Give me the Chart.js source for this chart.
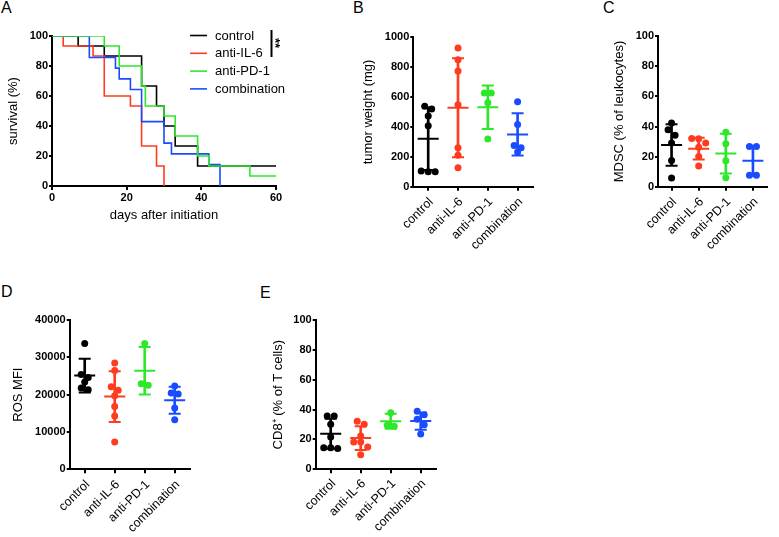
<!DOCTYPE html>
<html><head><meta charset="utf-8">
<script src="https://cdn.jsdelivr.net/npm/chart.js@4.4.0/dist/chart.umd.min.js"></script>
<style>
html,body{margin:0;padding:0;background:#fff;width:779px;height:537px;overflow:hidden;position:relative;font-family:'Liberation Sans',Arial,sans-serif;}
canvas{position:absolute;}
.lbl{position:absolute;font-size:16px;line-height:1;color:#000;}
</style></head><body>
<div class="lbl" style="left:1px;top:0px">A</div>
<div class="lbl" style="left:353px;top:0px">B</div>
<div class="lbl" style="left:603px;top:0px">C</div>
<div class="lbl" style="left:1px;top:284px">D</div>
<div class="lbl" style="left:260px;top:285px">E</div>
<canvas id="cA" width="300" height="230" style="left:0;top:0;width:300px;height:230px"></canvas>
<canvas id="cB" width="190" height="260" style="left:355px;top:0;width:190px;height:260px"></canvas>
<canvas id="cC" width="173" height="260" style="left:606px;top:0;width:173px;height:260px"></canvas>
<canvas id="cD" width="200" height="267" style="left:5px;top:270px;width:200px;height:267px"></canvas>
<canvas id="cE" width="190" height="267" style="left:265px;top:270px;width:190px;height:267px"></canvas>
<script>
// ---------- data ----------
const categories = ['control', 'anti-IL-6', 'anti-PD-1', 'combination'];
const groupColors = ['#000000', '#ff3b20', '#2de82a', '#1a4cff'];

// Panel A: Kaplan-Meier survival (day, % surviving)
const ctrlDays  = [0, 7, 14, 24, 28, 30, 33, 39, 60];
const ctrlSurv  = [100, 93.3, 86.7, 66.7, 53.3, 40, 26.7, 13.3, 13.3];
const il6Days   = [0, 3, 11, 14, 21, 24, 28, 30];
const il6Surv   = [100, 93.3, 86.7, 60, 53.3, 26.7, 13.3, 0];
const pd1Days   = [0, 14, 18, 24, 25, 30, 33, 39, 42, 53, 60];
const pd1Surv   = [100, 93.3, 80, 66.7, 53.3, 46.7, 33.3, 20, 13.3, 6.7, 6.7];
const comboDays = [0, 10, 17, 18, 21, 24, 30, 32, 42, 45];
const comboSurv = [100, 85.7, 78.6, 71.4, 64.3, 42.9, 28.6, 21.4, 14.3, 0];

// Panel B: tumor weight (mg)
const tumorControl = [538, 520, 473, 408, 105, 100, 100];
const tumorIL6     = [928, 850, 775, 548, 261, 210, 127];
const tumorPD1     = [627, 627, 562, 319];
const tumorCombo   = [569, 417, 275, 261, 232];
const tumorMean    = [321, 528, 532, 350];
const tumorSD      = [209, 331, 146, 141];

// Panel C: MDSC (% of leukocytes)
const mdscControl = [42.4, 37.9, 34.2, 29.0, 17.4, 5.8];
const mdscIL6     = [32.1, 31.8, 29.0, 26.3, 20.0, 13.8];
const mdscPD1     = [36.2, 28.6, 17.2, 6.0];
const mdscCombo   = [26.8, 26.8, 7.6, 7.6];
const mdscMean    = [27.7, 25.3, 22.0, 17.2];
const mdscSD      = [13.8, 7.2, 13.2, 10.0];

// Panel D: ROS MFI
const rosControl = [33700, 25400, 24600, 23400, 21800, 21300];
const rosIL6     = [28500, 26500, 22100, 21200, 19700, 16800, 14300, 7300];
const rosPD1     = [33700, 22950, 22500];
const rosCombo   = [22300, 20450, 20200, 16400, 13300];
const rosMean    = [25100, 19500, 26400, 18500];
const rosSD      = [4500, 6800, 6350, 3600];

// Panel E: CD8+ (% of T cells)
const cd8Control = [35.7, 35.7, 30.1, 21.7, 14.5, 14.0, 14.5];
const cd8IL6     = [32.1, 30.1, 22.3, 18.3, 18.3, 15.0, 9.8];
const cd8PD1     = [37.9, 29.5, 28.8];
const cd8Combo   = [38.8, 36.6, 33.5, 29.9, 23.7];
const cd8Mean    = [23.8, 20.9, 32.2, 32.3];
const cd8SD      = [10.0, 8.0, 5.0, 5.8];

// ---------- common styling ----------
const FAM = "'Liberation Sans', Arial, sans-serif";
Chart.defaults.font.family = FAM;
Chart.defaults.color = '#000';

function axisStyle(tickLen) {
  return {
    grid: { display: true, drawOnChartArea: false, drawTicks: true, tickLength: tickLen, color: '#000', lineWidth: 2, offset: false },
    border: { display: true, color: '#000', width: 2 }
  };
}

// ---------- Panel A ----------
const survLegend = {
  id: 'survLegend',
  afterDraw(chart) {
    const ctx = chart.ctx;
    ctx.save();
    ctx.font = '13px ' + FAM;
    ctx.textBaseline = 'middle';
    [0, 1, 2, 3].forEach(i => {
      const ds = chart.data.datasets[i];
      const y = 35.5 + i * 17.8;
      ctx.strokeStyle = ds.borderColor; ctx.lineWidth = 1.6;
      ctx.beginPath(); ctx.moveTo(190, y); ctx.lineTo(207, y); ctx.stroke();
      ctx.fillStyle = '#000'; ctx.fillText(ds.label, 215, y + 0.5);
    });
    ctx.strokeStyle = '#000'; ctx.lineWidth = 2;
    ctx.beginPath(); ctx.moveTo(271.5, 30); ctx.lineTo(271.5, 57); ctx.stroke();
    ctx.translate(275, 43); ctx.rotate(Math.PI / 2);
    ctx.textAlign = 'center'; ctx.font = 'bold 13px ' + FAM;
    ctx.fillStyle = '#000';
    ctx.fillText('**', 0, 0);
    ctx.restore();
  }
};

function km(days, surv) { return days.map((d, i) => ({ x: d, y: surv[i] })); }

new Chart(document.getElementById('cA'), {
  type: 'line',
  data: {
    datasets: [
      { label: categories[0], data: km(ctrlDays, ctrlSurv), borderColor: groupColors[0], order: 4 },
      { label: categories[1], data: km(il6Days, il6Surv), borderColor: groupColors[1], order: 3 },
      { label: categories[2], data: km(pd1Days, pd1Surv), borderColor: groupColors[2], order: 1 },
      { label: categories[3], data: km(comboDays, comboSurv), borderColor: groupColors[3], order: 2 }
    ].map(d => Object.assign(d, { stepped: true, borderWidth: 1.6, pointRadius: 0, fill: false }))
  },
  options: {
    responsive: false, animation: false, events: [],
    layout: { padding: { left: 2, top: 36, right: 24, bottom: 0 } },
    scales: {
      x: Object.assign({
        type: 'linear', min: 0, max: 60,
        ticks: { stepSize: 20, font: { weight: 'bold', size: 11 }, color: '#000', padding: 1 },
        title: { display: true, text: 'days after initiation', font: { size: 13 }, color: '#000', padding: { top: 0, bottom: 7 } },
        afterFit: s => { s.height = 44; }
      }, axisStyle(4)),
      y: Object.assign({
        min: 0, max: 100,
        ticks: { stepSize: 20, font: { weight: 'bold', size: 11 }, color: '#000', padding: 1 },
        title: { display: true, text: 'survival (%)', font: { size: 13 }, color: '#000', padding: { top: 4, bottom: 0 } },
        afterFit: s => { s.width = 50; }
      }, axisStyle(3))
    },
    plugins: { legend: { display: false }, tooltip: { enabled: false } }
  },
  plugins: [survLegend]
});

// ---------- dot plots ----------
const swarmPlugin = {
  id: 'swarm',
  afterDatasetsUpdate(chart) {
    const d = 7;
    chart.data.datasets.forEach((ds, di) => {
      if (!ds.swarm) return;
      const meta = chart.getDatasetMeta(di);
      const pts = meta.data.slice().sort((a, b) => a.y - b.y);
      const bins = []; let cur = [];
      pts.forEach(p => {
        if (cur.length && p.y - cur[0].y > d * 0.85) { bins.push(cur); cur = []; }
        cur.push(p);
      });
      if (cur.length) bins.push(cur);
      bins.forEach(bin => {
        const n = bin.length;
        bin.forEach((p, k) => { p.x = p.x + (k - (n - 1) / 2) * d; });
      });
    });
  }
};

function dotChart(id, groups, means, sds, yMax, yStep, yTitle, L) {
  const lo = means.map((m, i) => m - sds[i]);
  const hi = means.map((m, i) => m + sds[i]);
  const datasets = [
    { type: 'bar', data: means.map((m, i) => [lo[i], hi[i]]), backgroundColor: groupColors, barThickness: 2, borderWidth: 0, order: 1 },
    { type: 'line', data: means, showLine: false, pointStyle: 'line', pointRadius: 10.5, pointBorderWidth: 2, pointBorderColor: groupColors, order: 0 },
    { type: 'line', data: hi, showLine: false, pointStyle: 'line', pointRadius: 6, pointBorderWidth: 2, pointBorderColor: groupColors, order: 0 },
    { type: 'line', data: lo, showLine: false, pointStyle: 'line', pointRadius: 6, pointBorderWidth: 2, pointBorderColor: groupColors, order: 0 }
  ];
  groups.forEach((g, i) => {
    datasets.push({
      type: 'line', showLine: false, swarm: true, order: 2,
      data: g.map(v => ({ x: categories[i], y: v })),
      pointRadius: 3.5, pointBorderWidth: 0, pointBackgroundColor: groupColors[i], pointBorderColor: groupColors[i]
    });
  });
  new Chart(document.getElementById(id), {
    type: 'bar',
    data: { labels: categories, datasets },
    options: {
      responsive: false, animation: false, events: [],
      layout: { padding: { left: L.pl, top: L.pt, right: L.pr, bottom: 0 } },
      scales: {
        x: Object.assign({
          type: 'category', offset: true,
          ticks: { minRotation: 45, maxRotation: 45, autoSkip: false, font: { size: 12.5 }, color: '#000', padding: L.lp, labelOffset: 3 },
          afterFit: s => { s.height = L.xh; }
        }, axisStyle(4)),
        y: Object.assign({
          min: 0, max: yMax,
          ticks: { stepSize: yStep, font: { weight: 'bold', size: 11 }, color: '#000', padding: 1, callback: v => String(v) },
          title: { display: true, text: yTitle, font: { size: 13 }, color: '#000', padding: { top: 4, bottom: 0 } },
          afterFit: s => { s.width = L.yw; }
        }, axisStyle(3))
      },
      plugins: { legend: { display: false }, tooltip: { enabled: false } }
    },
    plugins: [swarmPlugin]
  });
}

dotChart('cB', [tumorControl, tumorIL6, tumorPD1, tumorCombo], tumorMean, tumorSD, 1000, 200, 'tumor weight (mg)',
  { pl: 2, pt: 37.3, pr: 12, yw: 56.3, xh: 73.3, lp: 4 });
dotChart('cC', [mdscControl, mdscIL6, mdscPD1, mdscCombo], mdscMean, mdscSD, 100, 20, 'MDSC (% of leukocytes)',
  { pl: 2, pt: 36.3, pr: 1.5, yw: 50, xh: 73.3, lp: 4 });
dotChart('cD', [rosControl, rosIL6, rosPD1, rosCombo], rosMean, rosSD, 40000, 10000, 'ROS MFI',
  { pl: 2, pt: 50, pr: 15.3, yw: 62.7, xh: 67.7, lp: 4 });
dotChart('cE', [cd8Control, cd8IL6, cd8PD1, cd8Combo], cd8Mean, cd8SD, 100, 20, 'CD8\u207A (% of T cells)',
  { pl: 2, pt: 50, pr: 19.3, yw: 48.7, xh: 67.7, lp: 3 });
</script>
</body></html>
